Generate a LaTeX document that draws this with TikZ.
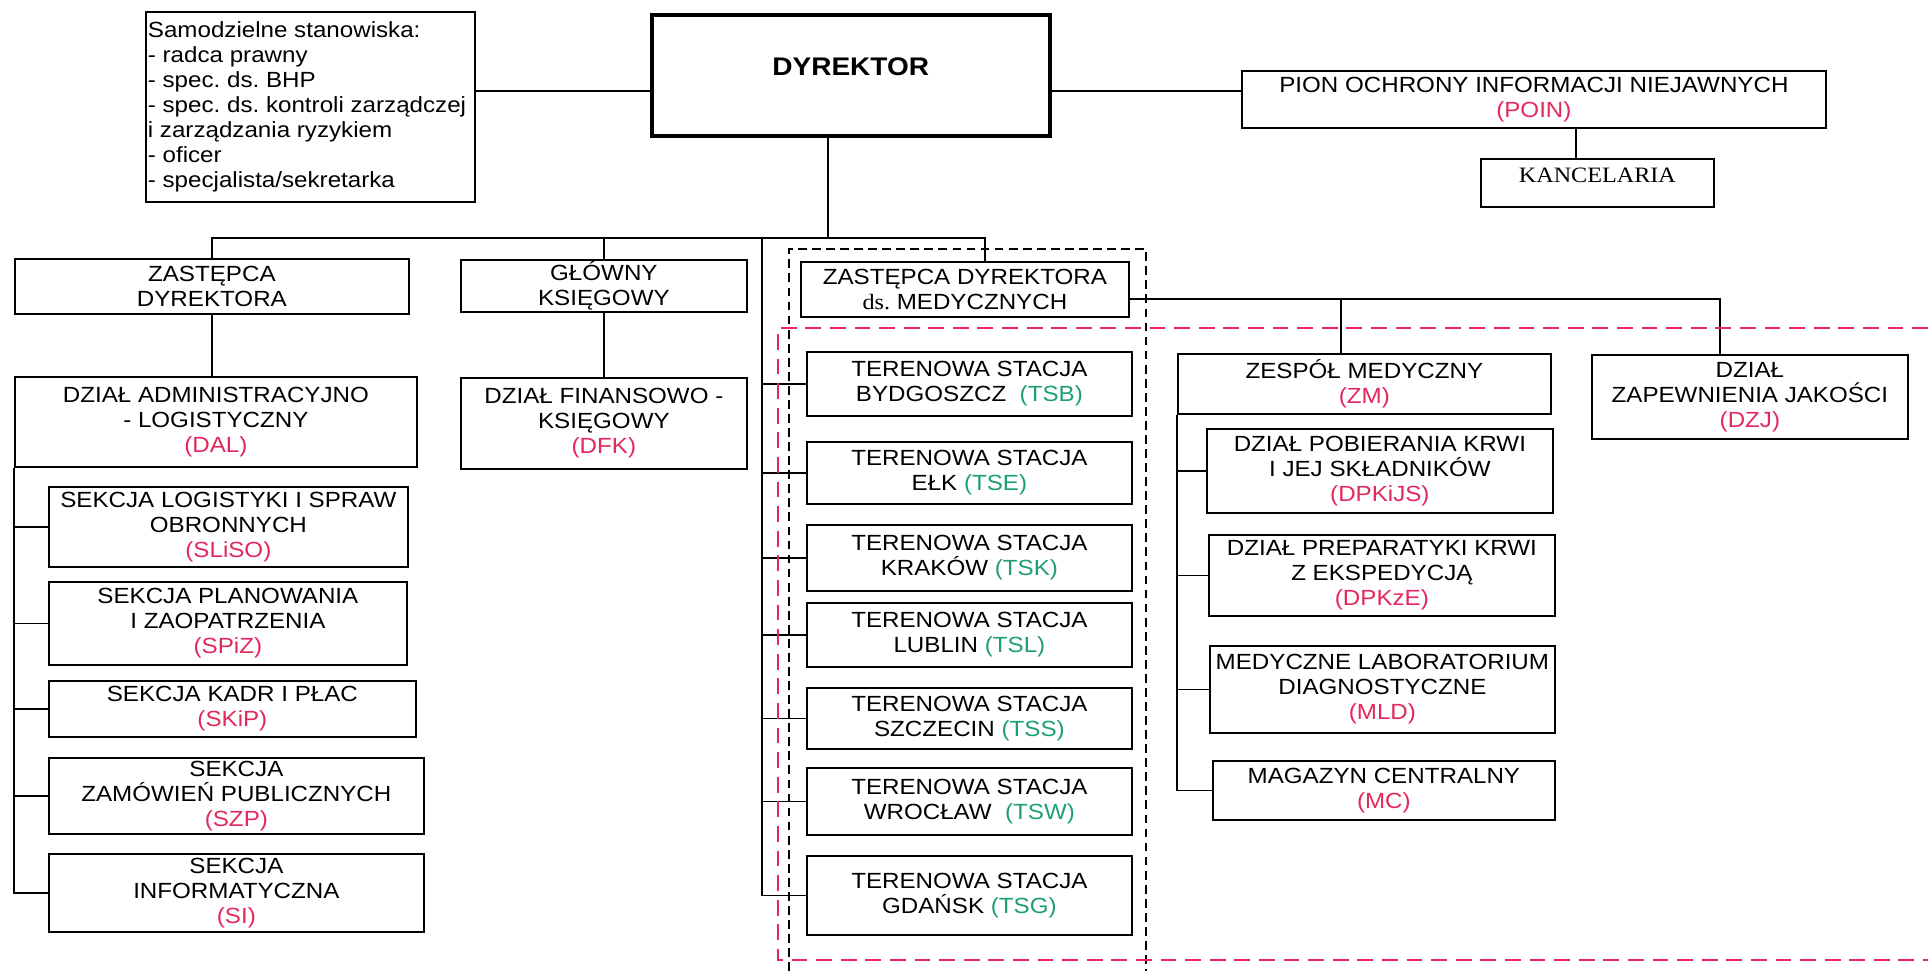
\documentclass[tikz,border=0pt]{standalone}
\usepackage{fontspec}
\setmainfont{Liberation Sans}[FakeStretch=1.1]
\newfontfamily\szeryf{Liberation Serif}[FakeStretch=1.1]

\definecolor{kodczerw}{RGB}{226,40,92}
\definecolor{kodziel}{RGB}{30,158,118}
\newcommand{\kod}[1]{\textcolor{kodczerw}{#1}}
\newcommand{\kodts}[1]{\textcolor{kodziel}{#1}}

\begin{document}
\begin{tikzpicture}[
  x=0.02cm, y=-0.02cm,
  font=\fontsize{12.5pt}{14.2pt}\selectfont\frenchspacing,
  kom/.style 2 args={draw, line width=1pt, align=center, anchor=north west,
    inner xsep=1pt, inner ysep=0pt, minimum width=#1*0.02cm, minimum height=#2*0.02cm},
  lin/.style={line width=1pt},
  ramkaczarna/.style={line width=1pt, dash pattern=on 5pt off 3pt},
  ramkaczerwona/.style={line width=1pt, kodczerw, dash pattern=on 9pt off 5pt}
]
\useasboundingbox (0,0) rectangle (1928,971);

\node[kom={329}{190}, align=flush left, text width=6.5cm, inner xsep=0.04cm] (samo) at (145,11)
  {Samodzielne stanowiska:\\- radca prawny\\- spec. ds. BHP\\- spec. ds. kontroli zarządczej\\i zarządzania ryzykiem\\- oficer\\- specjalista/sekretarka};
\node[kom={398}{121}, line width=2pt, font=\fontsize{14.5pt}{16pt}\selectfont\bfseries,
  text height=0.37cm, text depth=0.35cm] (dyr) at (650,13) {DYREKTOR};
\node[kom={584}{57}] (pion) at (1241,70) {PION OCHRONY INFORMACJI NIEJAWNYCH\\\kod{(POIN)}};
\node[kom={233}{48}, font=\fontsize{12.5pt}{14.2pt}\selectfont\szeryf,
  text height=0.33cm, text depth=0.35cm] (kanc) at (1480,158) {KANCELARIA};

\node[kom={394}{55}] (zd) at (14,258) {ZASTĘPCA\\DYREKTORA};
\node[kom={286}{52}] (gk) at (460,259) {GŁÓWNY\\KSIĘGOWY};
\node[kom={328}{55}] (zdm) at (800,261) {ZASTĘPCA DYREKTORA\\{\szeryf ds.} MEDYCZNYCH};

\node[kom={402}{90}] (dal) at (14,376) {DZIAŁ ADMINISTRACYJNO\\- LOGISTYCZNY\\\kod{(DAL)}};
\node[kom={359}{80}] (sliso) at (48,486) {SEKCJA LOGISTYKI I SPRAW\\OBRONNYCH\\\kod{(SLiSO)}};
\node[kom={358}{83}] (spiz) at (48,581) {SEKCJA PLANOWANIA\\I ZAOPATRZENIA\\\kod{(SPiZ)}};
\node[kom={367}{56}] (skip) at (48,680) {SEKCJA KADR I PŁAC\\\kod{(SKiP)}};
\node[kom={375}{76}] (szp) at (48,757) {SEKCJA\\ZAMÓWIEŃ PUBLICZNYCH\\\kod{(SZP)}};
\node[kom={375}{78}] (si) at (48,853) {SEKCJA\\INFORMATYCZNA\\\kod{(SI)}};

\node[kom={286}{91}] (dfk) at (460,377) {DZIAŁ FINANSOWO -\\KSIĘGOWY\\\kod{(DFK)}};

\node[kom={325}{64}] (tsb) at (806,351) {TERENOWA STACJA\\BYDGOSZCZ~~\kodts{(TSB)}};
\node[kom={325}{62}] (tse) at (806,441) {TERENOWA STACJA\\EŁK \kodts{(TSE)}};
\node[kom={325}{66}] (tsk) at (806,524) {TERENOWA STACJA\\KRAKÓW \kodts{(TSK)}};
\node[kom={325}{64}] (tsl) at (806,602) {TERENOWA STACJA\\LUBLIN \kodts{(TSL)}};
\node[kom={325}{61}] (tss) at (806,687) {TERENOWA STACJA\\SZCZECIN \kodts{(TSS)}};
\node[kom={325}{67}] (tsw) at (806,767) {TERENOWA STACJA\\WROCŁAW~~\kodts{(TSW)}};
\node[kom={325}{79}] (tsg) at (806,855) {TERENOWA STACJA\\GDAŃSK \kodts{(TSG)}};

\node[kom={373}{60}] (zm) at (1177,353) {ZESPÓŁ MEDYCZNY\\\kod{(ZM)}};
\node[kom={346}{84}] (dpkijs) at (1206,428) {DZIAŁ POBIERANIA KRWI\\I JEJ SKŁADNIKÓW\\\kod{(DPKiJS)}};
\node[kom={346}{81}] (dpkze) at (1208,534) {DZIAŁ PREPARATYKI KRWI\\Z EKSPEDYCJĄ\\\kod{(DPKzE)}};
\node[kom={345}{87}] (mld) at (1209,645) {MEDYCZNE LABORATORIUM\\DIAGNOSTYCZNE\\\kod{(MLD)}};
\node[kom={342}{59}] (mc) at (1212,760) {MAGAZYN CENTRALNY\\\kod{(MC)}};
\node[kom={316}{84}] (dzj) at (1591,354) {DZIAŁ\\ZAPEWNIENIA JAKOŚCI\\\kod{(DZJ)}};

\coordinate (dyrL) at ([yshift=-0.31cm]dyr.west);
\coordinate (dyrP) at ([yshift=-0.31cm]dyr.east);
\coordinate (kancgora) at ([xshift=-0.43cm]kanc.north);
\coordinate (szyna) at (828,238);
\coordinate (tsszyna) at (762,238);
\coordinate (medszyna) at ([yshift=-0.19cm]zdm.east);
\coordinate (zmgora) at ([xshift=-0.47cm]zm.north);

\draw[lin] (dyrL) -- (dyrL -| samo.east);
\draw[lin] (dyrP) -- (dyrP -| pion.west);
\draw[lin] (kancgora) -- (kancgora |- pion.south);

\draw[lin] (szyna |- dyr.south) -- (szyna);
\draw[lin] (zd.north) |- (szyna) -| ([xshift=0.4cm]zdm.north);
\draw[lin] (gk.north) -- (gk.north |- szyna);
\draw[lin] (tsszyna) |- (tsg.west);
\foreach \s in {tsb,tse,tsk,tsl,tss,tsw}
  \draw[lin] (\s.west) -- (\s.west -| tsszyna);

\draw[lin] (zd.south) -- (zd.south |- dal.north);
\draw[lin] (dal.south west) |- (si.west);
\foreach \s in {sliso,spiz,skip,szp}
  \draw[lin] (\s.west) -- (\s.west -| dal.south west);
\draw[lin] (gk.south) -- (dfk.north);

\draw[lin] (medszyna) -| ([xshift=-0.6cm]dzj.north);
\draw[lin] (zmgora) -- (zmgora |- medszyna);
\draw[lin] (zm.south west) |- (mc.west);
\foreach \s in {dpkijs,dpkze,mld}
  \draw[lin] (\s.west) -- (\s.west -| zm.south west);

\draw[ramkaczarna] (789,971) |- (1146,249) -- (1146,971);
\draw[ramkaczerwona] (1928,328) -| (778,960) -- (1928,960);

\end{tikzpicture}
\end{document}
